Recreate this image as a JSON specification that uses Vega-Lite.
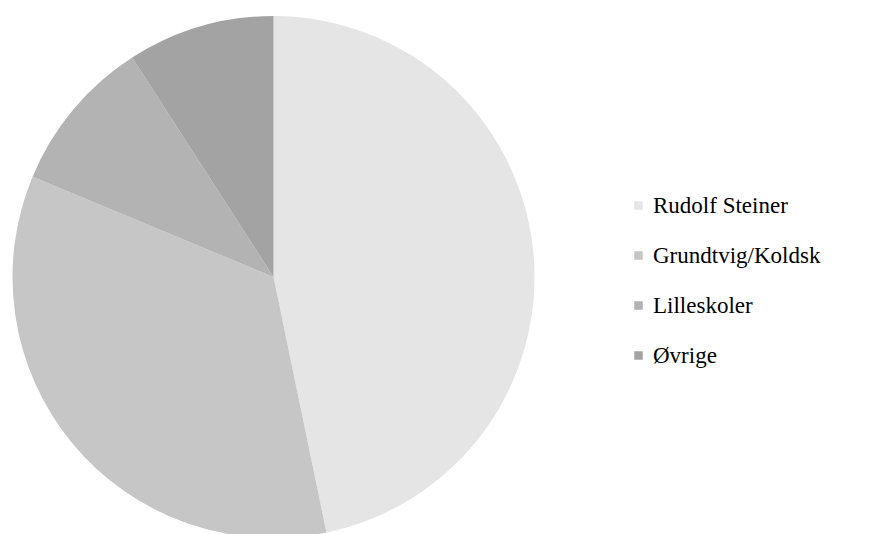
{
  "$schema": "https://vega.github.io/schema/vega-lite/v6.json",
  "width": 871,
  "height": 534,
  "autosize": "none",
  "padding": 0,
  "background": "white",
  "data": {
    "values": [
      {"skole": "Rudolf Steiner", "andel": 46.7, "i": 1},
      {"skole": "Grundtvig/Koldsk", "andel": 34.5, "i": 2},
      {"skole": "Lilleskoler", "andel": 9.6, "i": 3},
      {"skole": "Øvrige", "andel": 9.1, "i": 4}
    ]
  },
  "mark": {"type": "arc", "radius": 261, "x": 273.5, "y": 277, "stroke": null},
  "encoding": {
    "theta": {"field": "andel", "type": "quantitative", "stack": true},
    "order": {"field": "i", "type": "quantitative"},
    "color": {
      "field": "skole",
      "type": "nominal",
      "sort": null,
      "scale": {"range": ["#e5e5e5", "#c6c6c6", "#b3b3b3", "#a3a3a3"]},
      "legend": {
        "title": null,
        "orient": "none",
        "legendX": 627,
        "legendY": 194,
        "symbolType": "square",
        "symbolSize": 72,
        "symbolStrokeWidth": 0,
        "labelFont": "Liberation Serif",
        "labelFontSize": 23,
        "labelColor": "#000000",
        "labelOffset": 3,
        "rowPadding": 26,
        "labelLimit": 300
      }
    }
  },
  "config": {"view": {"stroke": null}}
}
